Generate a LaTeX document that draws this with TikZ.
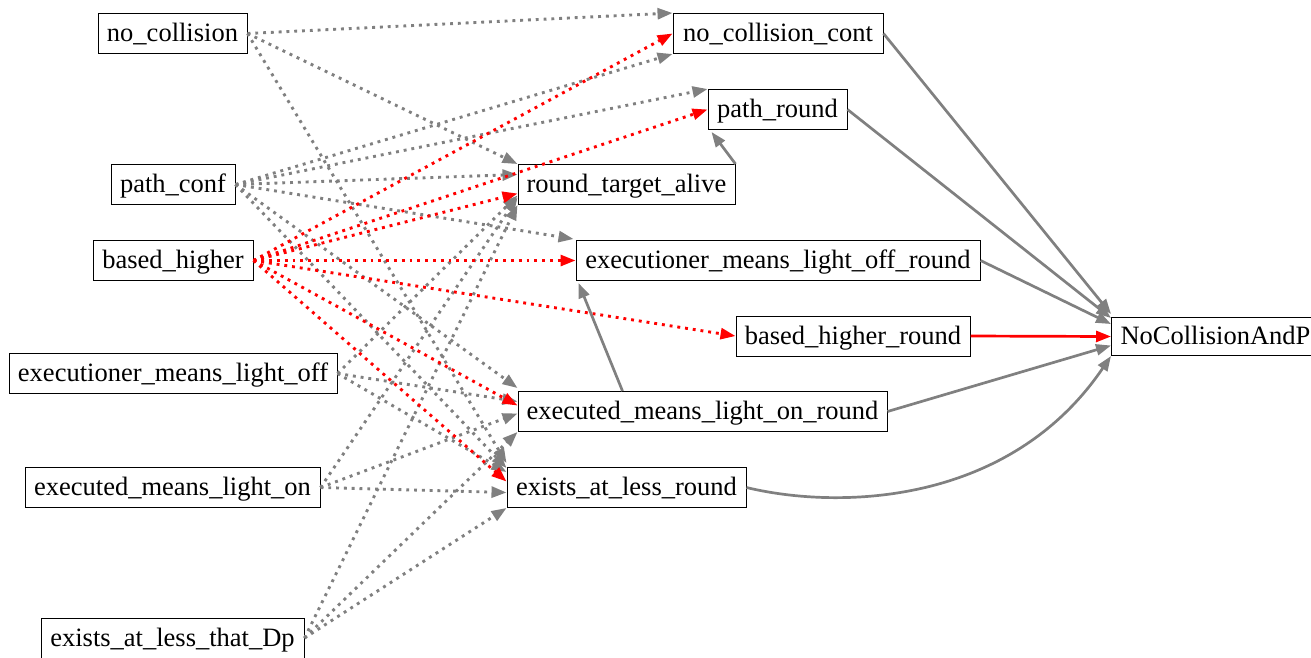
\documentclass[tikz,border=0pt]{standalone}
\usepackage{fontspec}
\setmainfont{Liberation Serif}
\usetikzlibrary{arrows.meta}
\definecolor{eg}{HTML}{808080}
\definecolor{er}{HTML}{FF0000}
\begin{document}
\begin{tikzpicture}[x=1pt,y=-1pt,
  box/.style={draw=black, line width=1pt, minimum height=40pt, inner sep=0pt,
    text height=20pt, text depth=4pt,
    font=\fontsize{26.5pt}{30pt}\selectfont},
  tip/.style={-{Triangle[length=15pt,width=11pt]}},
  gd/.style={draw=eg, line width=2.9pt, dash pattern=on 2.9pt off 4.9pt, tip},
  rd/.style={draw=er, line width=2.9pt, dash pattern=on 2.9pt off 4.9pt, tip},
  gs/.style={draw=eg, line width=2.7pt, tip},
  rs/.style={draw=er, line width=2.7pt, tip}]
\useasboundingbox (0,0) rectangle (1311,657);
% sources
\node[box, minimum width=149pt] (nc) at (172.5,33.5) {no\_collision};
\node[box, minimum width=124pt] (pc) at (173,184.5) {path\_conf};
\node[box, minimum width=160pt] (bh) at (173,260.5) {based\_higher};
\node[box, minimum width=328pt] (lo) at (173,373.5) {executioner\_means\_light\_off};
\node[box, minimum width=295pt] (eo) at (172.5,487.5) {executed\_means\_light\_on};
\node[box, minimum width=263pt] (dp) at (172.5,638) {exists\_at\_less\_that\_Dp};
% intermediate
\node[box, minimum width=210pt] (ncc) at (778,33.5) {no\_collision\_cont};
\node[box, minimum width=139pt] (pr) at (777.5,109.5) {path\_round};
\node[box, minimum width=217pt] (rta) at (626.5,184.5) {round\_target\_alive};
\node[box, minimum width=404pt] (elor) at (778,260.5) {executioner\_means\_light\_off\_round};
\node[box, minimum width=234pt] (bhr) at (853,336) {based\_higher\_round};
\node[box, minimum width=369pt] (emr) at (702.5,411.5) {executed\_means\_light\_on\_round};
\node[box, minimum width=239pt] (ear) at (626.5,487.5) {exists\_at\_less\_round};
% sink
\node[box, minimum height=38pt, inner xsep=9pt, anchor=west] (ncp) at (1111,336.5) {NoCollisionAndP};
% no_collision
\draw[gd] (nc.east) -- (ncc.north west);
\draw[gd] (nc.east) -- (rta.north west);
\draw[gd] (nc.east) -- ([yshift=4pt]ear.north west);
% path_conf
\draw[gd] (pc.east) -- (ncc.south west);
\draw[gd] (pc.east) -- (pr.north west);
\draw[gd] (pc.east) -- ([yshift=10pt]rta.west);
\draw[gd] (pc.east) -- ([xshift=-2pt,yshift=1pt]elor.north west);
\draw[gd] (pc.east) -- ([yshift=3pt]emr.north west);
\draw[gd] (pc.east) -- ([yshift=-1pt]ear.north west);
% executioner_means_light_off
\draw[gd] (lo.east) -- ([yshift=-11pt]rta.west);
\draw[gd] (lo.east) -- ([yshift=10pt]emr.west);
\draw[gd] (lo.east) -- ([yshift=-5pt]ear.north west);
% executed_means_light_on
\draw[gd] (eo.east) -- ([yshift=-13pt]rta.west);
\draw[gd] (eo.east) -- ([yshift=-2pt]emr.west);
\draw[gd] (eo.east) -- ([yshift=-5pt]ear.west);
% exists_at_less_that_Dp
\draw[gd] (dp.east) -- (rta.south west);
\draw[gd] (dp.east) -- (emr.south west);
\draw[gd] (dp.east) -- (ear.south west);
% based_higher (red)
\draw[rd] (bh.east) -- (ncc.west);
\draw[rd] (bh.east) -- (pr.west);
\draw[rd] (bh.east) -- ([yshift=-9pt]rta.west);
\draw[rd] (bh.east) -- (elor.west);
\draw[rd] (bh.east) -- (bhr.west);
\draw[rd] (bh.east) -- ([yshift=6pt]emr.west);
\draw[rd] (bh.east) -- ([yshift=6pt]ear.west);
% solid
\draw[gs] (rta.north east) -- ([xshift=4pt,yshift=-2pt]pr.south west);
\draw[gs] ([xshift=-80pt]emr.north) -- ([xshift=3pt,yshift=-2pt]elor.south west);
\draw[gs] (ncc.east) -- ([yshift=3pt]ncp.north west);
\draw[gs] (pr.east) -- ([yshift=-1pt]ncp.north west);
\draw[gs] (elor.east) -- ([yshift=-7pt]ncp.north west);
\draw[rs] (bhr.east) -- (ncp.west);
\draw[gs] (emr.east) -- ([yshift=-9pt]ncp.west);
\draw[gs] (ear.east) .. controls (840,510) and (1010,505) .. (ncp.south west);
\end{tikzpicture}
\end{document}
